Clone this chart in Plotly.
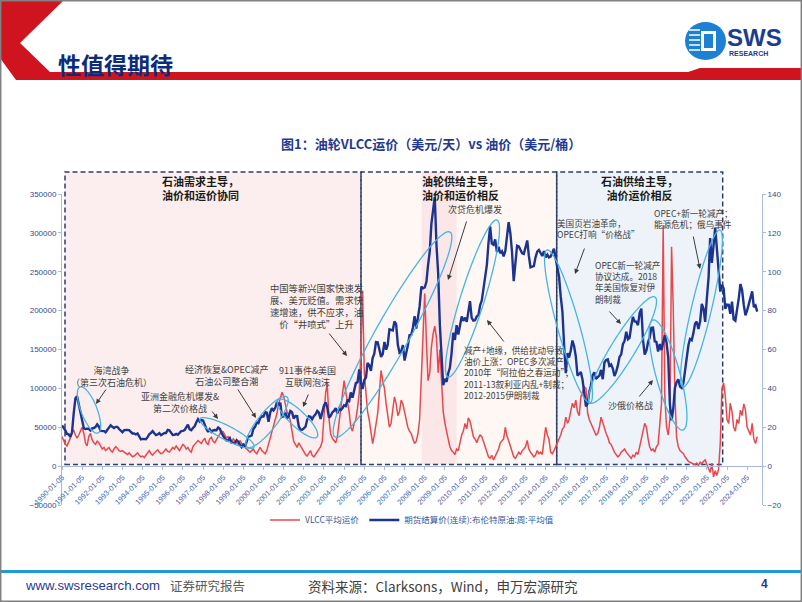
import numpy as np
import pandas as pd
import plotly.graph_objects as go

# ---- data (monthly) ----
start_month = "1990-01-01"

# VLCC average earnings, thousand USD/day
vlcc_k = [
    38, 32, 28, 26, 30, 36, 44, 46, 40, 36, 40, 46,        # 1990
    50, 42, 30, 26, 38, 42, 34, 30, 28, 32, 30, 26,        # 1991
    22, 24, 20, 22, 24, 20, 18, 22, 25, 23, 20, 19,        # 1992
    20, 18, 16, 15, 17, 14, 12, 13, 15, 17, 14, 12,        # 1993
    13, 11, 14, 18, 20, 16, 14, 17, 19, 21, 18, 16,        # 1994
    17, 20, 22, 19, 18, 21, 24, 22, 26, 23, 20, 24,        # 1995
    28, 26, 22, 24, 20, 18, 25, 28, 30, 33, 31, 29,        # 1996
    33, 36, 30, 28, 35, 37, 32, 30, 34, 38, 42, 45,        # 1997
    44, 40, 36, 38, 34, 30, 35, 32, 30, 28, 33, 29,        # 1998
    28, 24, 22, 20, 18, 20, 22, 18, 16, 20, 24, 20,        # 1999
    18, 16, 20, 28, 38, 45, 52, 60, 68, 80, 88, 95,        # 2000
    90, 78, 70, 66, 58, 45, 32, 28, 24, 30, 26, 22,        # 2001
    18, 15, 13, 16, 20, 14, 12, 15, 18, 22, 25, 32,        # 2002
    60, 95, 105, 62, 42, 36, 33, 30, 38, 55, 68, 85,       # 2003
    110, 95, 85, 70, 50, 45, 55, 60, 75, 94, 150, 226,     # 2004
    120, 89, 70, 59, 45, 29, 40, 55, 68, 95, 123, 110,     # 2005
    100, 80, 65, 50, 55, 70, 89, 80, 65, 70, 85, 80,       # 2006
    70, 59, 50, 45, 42, 35, 29, 32, 42, 60, 110, 180,      # 2007
    222, 160, 110, 120, 153, 170, 180, 165, 120, 150, 100, 70,  # 2008
    55, 42, 35, 25, 20, 18, 15, 22, 20, 30, 40, 45,        # 2009
    55, 48, 62, 58, 50, 38, 35, 30, 36, 40, 38, 30,        # 2010
    25, 18, 12, 10, 14, 8, 12, 16, 22, 30, 33, 35,         # 2011
    50, 38, 33, 25, 20, 12, 10, 14, 18, 15, 20, 22,        # 2012
    25, 33, 22, 18, 15, 12, 14, 20, 16, 18, 15, 30,        # 2013
    50, 40, 35, 18, 16, 20, 25, 28, 35, 40, 48, 50,        # 2014
    63, 55, 60, 70, 81, 75, 85, 70, 65, 89, 95, 102,       # 2015
    100, 68, 60, 55, 50, 46, 40, 42, 50, 63, 55, 48,       # 2016
    42, 37, 30, 28, 22, 18, 15, 12, 14, 18, 20, 22,        # 2017
    18, 15, 12, 10, 14, 12, 18, 15, 25, 37, 45, 55,        # 2018
    50, 35, 25, 20, 22, 18, 25, 28, 60, 80, 310, 90,       # 2019
    50, 40, 60, 282, 205, 90, 37, 25, 20, 18, 16, 12,      # 2020
    8, 6, 5, 4, 3, 2, 4, 1, 5, 3, 6, 8,                    # 2021
    2, -3, -8, 4, -14, -6, -12, -4, 30, 100, 107, 90,      # 2022
    60, 55, 81, 70, 50, 45, 60, 55, 72, 65, 80, 72,        # 2023
    50, 45, 40, 55, 35, 29, 38,                            # 2024
]

# Brent futures settlement (continuous), USD/bbl
brent = [
    21.0, 19.9, 18.4, 16.6, 16.4, 15.1, 17.2, 27.2, 34.9, 36.0, 32.3, 27.3,
    23.6, 19.5, 19.1, 19.2, 19.2, 18.3, 19.4, 19.6, 20.2, 21.5, 20.3, 18.1,
    18.2, 18.0, 17.4, 18.8, 19.9, 21.0, 20.2, 19.6, 20.2, 20.2, 19.1, 18.2,
    17.4, 18.5, 18.7, 18.6, 18.5, 17.7, 16.8, 16.8, 16.3, 16.8, 15.2, 13.8,
    14.0, 13.8, 13.8, 14.9, 16.4, 17.1, 18.0, 16.9, 16.0, 16.3, 17.0, 15.9,
    16.6, 17.1, 17.0, 18.6, 18.4, 17.3, 16.0, 16.1, 16.6, 16.1, 17.0, 18.0,
    18.1, 18.5, 19.9, 21.3, 19.0, 18.5, 19.6, 20.5, 22.6, 24.2, 22.9, 23.7,
    23.5, 20.8, 19.2, 17.6, 19.0, 17.6, 18.4, 18.6, 18.5, 19.9, 19.2, 17.1,
    15.4, 14.1, 13.2, 13.4, 14.4, 12.1, 12.1, 12.0, 13.4, 12.6, 11.0, 9.8,
    11.1, 10.3, 12.5, 15.3, 15.3, 15.8, 19.1, 20.2, 22.5, 22.1, 24.6, 25.6,
    25.5, 27.8, 27.5, 22.8, 27.5, 29.8, 28.7, 30.0, 33.0, 31.1, 32.6, 25.3,
    25.6, 27.5, 24.5, 25.7, 28.4, 27.7, 24.5, 25.8, 25.7, 20.5, 18.8, 18.7,
    19.4, 20.3, 23.7, 25.7, 25.4, 24.1, 25.7, 26.6, 28.4, 27.5, 24.3, 28.0,
    31.2, 32.8, 30.3, 25.0, 25.8, 27.6, 28.4, 29.8, 27.1, 29.6, 28.8, 29.8,
    31.3, 30.9, 33.8, 33.4, 37.9, 35.2, 38.2, 42.7, 43.2, 49.8, 43.1, 39.7,
    44.3, 45.6, 53.1, 51.9, 49.0, 55.6, 57.9, 63.8, 63.7, 59.4, 56.2, 57.6,
    63.9, 59.9, 62.3, 70.4, 70.2, 69.8, 74.4, 73.1, 62.4, 58.3, 58.9, 62.3,
    54.3, 57.8, 62.1, 67.4, 67.5, 71.3, 77.2, 70.8, 77.1, 82.3, 92.4, 91.5,
    91.9, 94.8, 103.3, 110.4, 124.6, 133.5, 138.5, 113.9, 99.1, 72.8, 53.2, 41.6,
    44.9, 43.4, 47.7, 50.6, 57.9, 68.6, 64.9, 72.5, 67.7, 73.2, 77.0, 74.7,
    76.4, 74.3, 79.3, 84.9, 76.3, 74.8, 75.0, 77.0, 77.8, 82.7, 85.3, 91.5,
    96.5, 103.7, 114.6, 123.3, 114.5, 113.9, 116.7, 110.2, 112.8, 109.6, 110.5, 107.9,
    110.7, 119.3, 125.5, 119.8, 110.3, 95.2, 102.6, 113.4, 113.0, 111.5, 109.5, 109.2,
    112.3, 116.1, 108.5, 102.3, 102.6, 102.9, 107.4, 110.3, 111.2, 109.5, 108.1, 110.6,
    107.4, 108.8, 107.4, 107.8, 109.7, 111.9, 106.9, 101.9, 97.3, 87.3, 79.4, 62.3,
    47.8, 58.1, 55.9, 59.5, 64.6, 61.7, 56.5, 46.5, 47.6, 48.4, 44.3, 38.0,
    30.7, 32.2, 38.2, 41.6, 46.7, 48.3, 44.9, 45.8, 46.6, 49.5, 44.7, 53.3,
    54.6, 54.9, 51.6, 52.3, 50.3, 46.4, 48.5, 51.7, 56.2, 57.5, 62.7, 64.4,
    69.1, 65.3, 66.0, 72.1, 76.7, 74.4, 74.3, 72.5, 78.9, 81.0, 64.8, 57.4,
    59.4, 63.9, 66.1, 71.2, 71.3, 64.2, 63.9, 59.0, 62.8, 59.7, 63.2, 67.3,
    63.6, 55.7, 32.0, 23.5, 29.4, 40.3, 43.2, 44.7, 40.9, 40.2, 42.7, 49.9,
    54.8, 62.3, 65.4, 64.8, 68.3, 73.4, 74.3, 70.5, 74.5, 83.5, 81.1, 74.2,
    86.5, 97.1, 117.3, 104.6, 113.3, 122.7, 111.9, 100.5, 89.8, 93.3, 91.4, 80.9,
    83.1, 83.0, 78.4, 84.6, 75.5, 74.8, 80.1, 86.2, 93.7, 90.6, 82.9, 77.6,
    80.1, 83.5, 85.4, 89.9, 81.8, 82.6, 79.5,
]

tick_years = list(range(1990, 2025))
tick_dates = [f"{y}-01-05" for y in tick_years]

dates = pd.date_range(start_month, periods=len(brent), freq="MS") + pd.Timedelta(days=4)
vlcc = [v * 1000 for v in vlcc_k]

# ---- page geometry (pixels) ----
L, R, T, B = 62, 762, 194, 505
PW, PH = R - L, B - T


def fx(x):
    return (x - L) / PW


def fy(y):
    return (B - y) / PH


def poly(pts):
    return "M " + " L ".join(f"{fx(x):.5f},{fy(y):.5f}" for x, y in pts) + " Z"


def ellipse(p0, p1, half_minor):
    # tilted ellipse whose long axis runs from p0 to p1 (pixel space)
    cx, cy = (p0[0] + p1[0]) / 2, (p0[1] + p1[1]) / 2
    a = np.hypot(p1[0] - p0[0], p1[1] - p0[1]) / 2
    th = np.arctan2(p1[1] - p0[1], p1[0] - p0[0])
    t = np.linspace(0, 2 * np.pi, 80, endpoint=False)
    xs = cx + a * np.cos(t) * np.cos(th) - half_minor * np.sin(t) * np.sin(th)
    ys = cy + a * np.cos(t) * np.sin(th) + half_minor * np.sin(t) * np.cos(th)
    return poly(zip(xs, ys))


CJK = "Noto Sans CJK SC"
NAVY = "#1F3A8F"
AXC = "#A9BCE0"
TXT = "#404040"

fig = go.Figure()
fig.add_trace(go.Scatter(x=dates, y=vlcc, name="VLCC平均运价", mode="lines",
                         line=dict(color="#E8484C", width=1.5)))
fig.add_trace(go.Scatter(x=dates, y=brent, name="期货结算价(连续):布伦特原油:周:平均值",
                         mode="lines", yaxis="y2",
                         line=dict(color="#1C3390", width=2.4)))

shapes = []
# period boxes
boxes = [(65, 361, "#FCEEEE"), (361, 556.7, "#FEF7F3"), (556.7, 722.7, "#EEF3FA")]
for x0, x1, col in boxes:
    shapes.append(dict(type="rect", xref="paper", yref="paper", layer="below",
                       x0=fx(x0), x1=fx(x1), y0=fy(464.5), y1=fy(172),
                       fillcolor=col, line=dict(width=0)))
shapes.append(dict(type="rect", xref="paper", yref="paper", layer="below",
                   x0=fx(421.7), x1=fx(456.7), y0=fy(464.5), y1=fy(172),
                   fillcolor="#FBE7E7", line=dict(width=0)))
for x0, x1, col in boxes:
    shapes.append(dict(type="rect", xref="paper", yref="paper", layer="below",
                       x0=fx(x0), x1=fx(x1), y0=fy(464.5), y1=fy(172),
                       fillcolor="rgba(0,0,0,0)",
                       line=dict(color="#2D3F66", width=1.5, dash="5px,3px")))

# ellipses
ells = [
    ((80, 387), (98, 433), 8),
    ((200, 419), (254, 447), 7),
    ((247, 447), (287, 397), 9),
    ((278, 400), (317, 437), 8),
    ((335, 437), (450, 232), 17),
    ((448, 377), (497, 220), 12),
    ((547, 250), (590, 403), 11),
    ((590, 403), (655, 297), 12),
    ((653, 320), (683, 430), 12),
    ((683, 387), (720, 230), 10),
]
for p0, p1, b in ells:
    shapes.append(dict(type="path", xref="paper", yref="paper", path=ellipse(p0, p1, b),
                       line=dict(color="#47B4E4", width=1.3)))

# header / footer decoration
shapes.append(dict(type="path", xref="paper", yref="paper", fillcolor="#CF1420",
                   line=dict(width=0),
                   path=poly([(0, 0), (64, 0), (20, 43), (50, 72), (688, 72), (700, 68),
                              (802, 68), (802, 80), (16, 80), (0, 58)])))
shapes.append(dict(type="line", xref="paper", yref="paper", x0=fx(0), x1=fx(802),
                   y0=fy(571.5), y1=fy(571.5), line=dict(color="#1E9BD7", width=3)))
shapes.append(dict(type="rect", xref="paper", yref="paper", x0=fx(0.7), x1=fx(801.3),
                   y0=fy(601.3), y1=fy(0.7), line=dict(color="#808080", width=1.5)))
# logo
shapes.append(dict(type="circle", xref="paper", yref="paper", x0=fx(685), x1=fx(726),
                   y0=fy(60), y1=fy(22), fillcolor="#1E80D2", line=dict(width=0)))
for yy in (30, 35, 40, 45, 50):
    shapes.append(dict(type="line", xref="paper", yref="paper", x0=fx(689), x1=fx(700),
                       y0=fy(yy), y1=fy(yy), line=dict(color="white", width=1.5)))
shapes.append(dict(type="rect", xref="paper", yref="paper", x0=fx(701), x1=fx(716),
                   y0=fy(51), y1=fy(31), fillcolor="white", line=dict(width=0)))
shapes.append(dict(type="rect", xref="paper", yref="paper", x0=fx(704), x1=fx(713),
                   y0=fy(48), y1=fy(34), fillcolor="#1E80D2", line=dict(width=0)))

annotations = []


def text(s, x, y, size, color=TXT, bold=False, anchor="center", family=CJK):
    if bold:
        s = f"<b>{s}</b>"
    annotations.append(dict(text=s, x=fx(x), y=fy(y), xref="paper", yref="paper",
                            xanchor=anchor, yanchor="middle", align=anchor,
                            showarrow=False, font=dict(size=size, color=color, family=family)))


def arrow(tail, head):
    annotations.append(dict(text="", x=fx(head[0]), y=fy(head[1]), xref="paper", yref="paper",
                            ax=tail[0] - head[0], ay=tail[1] - head[1], showarrow=True,
                            arrowhead=2, arrowsize=1, arrowwidth=1, arrowcolor="#3A3A3A"))


text("石油需求主导，<br>油价和运价协同", 200, 188, 11, "#1A1A1A", True)
text("油轮供给主导，<br>油价和运价相反", 460, 188, 11, "#1A1A1A", True)
text("石油供给主导，<br>油价运价相反", 639, 188, 11, "#1A1A1A", True)

text("海湾战争<br>（第三次石油危机）", 111, 376, 9)
text("亚洲金融危机爆发&<br>第二次价格战", 180, 402, 9)
text("经济恢复&OPEC减产<br>石油公司整合潮", 227, 375, 9)
text("911事件&美国<br>互联网泡沫", 307, 376, 9)
text("中国等新兴国家快速发<br>展、美元贬值。需求快<br>速增速，供不应求，油<br>价“井喷式”上升",
     317, 306, 9.3)
text("次贷危机爆发", 475, 209, 9)
text("减产+地缘，供给扰动导致<br>油价上涨：OPEC多次减产；<br>2010年“阿拉伯之春运动”；<br>"
     "2011-13叙利亚内乱+制裁；<br>2012-2015伊朗制裁", 462, 372, 8.6, anchor="left")
text("美国页岩油革命，<br>OPEC打响“价格战”", 555, 228, 8.6, anchor="left")
text("OPEC新一轮减产<br>协议达成。2018<br>年美国恢复对伊<br>朗制裁", 593, 282, 8.6, anchor="left")
text("OPEC+新一轮减产；<br>能源危机；俄乌事件", 652, 218, 8.6, anchor="left")
text("沙俄价格战", 630, 405, 9)

arrow((107, 388), (96, 404))
arrow((211, 410), (218, 419))
arrow((237, 388), (256, 418))
arrow((309, 393), (303, 407))
arrow((328, 332), (347, 356))
arrow((467, 220), (448, 280))
arrow((505, 343), (487, 320))
arrow((585, 247), (575, 274))
arrow((608, 310), (621, 324))
arrow((693, 235), (700, 269))
arrow((638, 398), (653, 380))

# page texts
text("性值得期待", 56, 64, 23, "#0C2B7A", True, "left")
text("图1：油轮VLCC运价（美元/天）vs 油价（美元/桶）", 431, 143, 13, NAVY, True)
text("SWS", 754, 38, 24, "#1D3C8F", True, family="Liberation Sans")
text("RESEARCH", 748, 53, 7, "#1D3C8F", True, family="Liberation Sans")
text("www.swsresearch.com", 23, 585, 13.2, "#1F3A93", anchor="left", family="Liberation Sans")
text("证券研究报告", 168, 585, 12.5, "#595959", anchor="left")
text("资料来源：Clarksons，Wind，申万宏源研究", 306, 586, 13.5, "#404040", anchor="left")
text("4", 764, 584, 12, "#1F3A93", True, family="Liberation Sans")

fig.update_layout(
    width=802, height=602,
    margin=dict(l=L, r=802 - R, t=T, b=602 - B, pad=0),
    paper_bgcolor="white", plot_bgcolor="white",
    showlegend=True,
    legend=dict(orientation="h", x=fx(412), xanchor="center", y=fy(520), yanchor="middle",
                font=dict(size=8.5, color="#3355A0", family=CJK), bgcolor="rgba(0,0,0,0)"),
    xaxis=dict(type="date", range=["1990-01-05", "2024-09-30"], anchor="free",
               position=fy(466.1), tickvals=tick_dates, ticktext=tick_dates,
               tickangle=-45, tickfont=dict(size=7.5, color="#4A67A8", family="Liberation Sans"),
               showline=True, linecolor=AXC, linewidth=1, ticks="outside", ticklen=3,
               tickcolor=AXC, showgrid=False, zeroline=False),
    yaxis=dict(range=[-50000, 350000], dtick=50000, tickformat="d", showline=True,
               linecolor=AXC, ticks="outside", ticklen=3, tickcolor=AXC, showgrid=False,
               zeroline=False,
               tickfont=dict(size=8, color="#2F4B8C", family="Liberation Sans")),
    yaxis2=dict(range=[-20, 140], dtick=20, overlaying="y", side="right", showline=True,
                linecolor=AXC, ticks="outside", ticklen=3, tickcolor=AXC, showgrid=False,
                zeroline=False, tickfont=dict(size=8, color="#2F4B8C", family="Liberation Sans")),
    shapes=shapes,
    annotations=annotations,
)

# the page's default 8px body margin would shift the whole figure
fig.write_html("out.html", config={"displayModeBar": False},
               post_script="document.body.style.margin='0px';")
